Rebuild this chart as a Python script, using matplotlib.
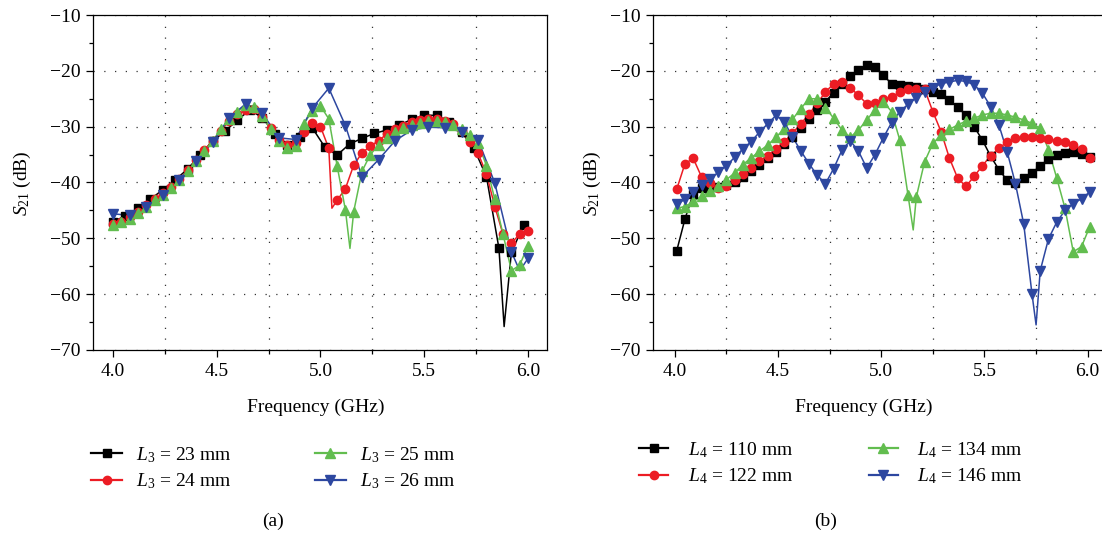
import numpy as np
import matplotlib.pyplot as plt
from matplotlib.lines import Line2D

plt.rcParams['font.family'] = ['Liberation Serif', 'DejaVu Serif']
plt.rcParams['mathtext.fontset'] = 'custom'
plt.rcParams['mathtext.rm'] = 'Liberation Serif'
plt.rcParams['mathtext.it'] = 'Liberation Serif:italic'

# ---------------- (a) L3 sweep ----------------
fa_black = np.round(np.arange(4.0, 5.99, 0.06), 2)   # 34 pts
fa_04 = np.round(np.arange(4.0, 6.001, 0.04), 2)     # 51 pts
fa_blue = np.round(np.arange(4.0, 6.001, 0.08), 2)   # 26 pts

a_l3_23 = [-47.0, -46.0, -44.6, -43.0, -41.3, -39.5, -37.6, -35.0, -32.6, -30.8,
           -28.8, -27.0, -28.4, -31.3, -33.2, -31.8, -30.2, -33.6, -35.1, -33.1,
           -32.1, -31.2, -30.6, -29.7, -28.7, -27.9, -28.0, -29.1, -31.0, -33.9,
           -39.0, -51.8, -52.5, -47.6]
a_l3_23_dip = ([5.885], [-65.8])

a_l3_24 = [-47.5, -47.0, -46.2, -45.2, -44.0, -43.0, -41.9, -40.8, -39.3, -37.8,
           -36.0, -34.2, -32.5, -30.7, -29.0, -27.8, -27.0, -26.9, -28.2, -30.3,
           -32.3, -33.3, -33.0, -31.0, -29.3, -30.0, -33.9, -43.2, -41.1, -36.9,
           -34.7, -33.5, -32.5, -31.3, -30.5, -29.8, -29.2, -28.8, -28.6, -28.6,
           -28.9, -29.6, -30.8, -32.8, -34.8, -38.5, -44.3, -49.3, -50.8, -49.3,
           -48.6]
a_l3_24_dip = ([5.055], [-44.6])

a_l3_25 = [-47.6, -47.1, -46.5, -45.5, -44.3, -43.1, -42.2, -41.0, -39.5, -38.0,
           -36.2, -34.4, -32.6, -30.5, -28.7, -27.3, -26.1, -26.4, -28.1, -30.5,
           -32.6, -33.8, -33.5, -29.5, -27.2, -26.3, -28.6, -37.0, -44.9, -45.2,
           -38.0, -35.0, -33.3, -32.0, -31.0, -30.2, -29.7, -29.3, -29.0, -29.0,
           -29.2, -29.7, -30.5, -31.5, -33.0, -37.0, -43.0, -49.3, -55.8, -54.8,
           -51.3]
a_l3_25_dip = ([5.142], [-51.8])

a_l3_26 = [-45.6, -45.9, -44.3, -42.2, -39.5, -36.2, -32.8, -28.4, -25.9, -27.6,
           -32.0, -32.3, -26.7, -23.1, -29.8, -39.0, -35.9, -32.5, -30.6, -30.1,
           -30.2, -30.9, -32.4, -40.1, -52.4, -53.6]
a_l3_26_dip = ([5.96], [-55.8])

# ---------------- (b) L4 sweep ----------------
fb = np.round(np.arange(4.01, 6.02, 0.04), 2)        # 51 pts

b_l4_110 = [-52.2, -46.5, -42.0, -41.0, -40.8, -40.8, -40.5, -39.9, -39.0, -37.9,
            -36.9, -35.7, -34.5, -33.1, -31.9, -30.2, -28.6, -27.0, -25.5, -23.9,
            -22.4, -21.0, -19.8, -19.0, -19.4, -20.8, -22.3, -22.6, -22.7, -22.9,
            -23.3, -23.8, -24.2, -25.3, -26.5, -27.9, -30.0, -32.4, -35.3, -37.7,
            -39.6, -40.1, -39.2, -38.3, -37.0, -35.8, -35.0, -34.7, -34.6, -34.9,
            -35.5]
b_l4_110_dip = ([], [])

b_l4_122 = [-41.2, -36.6, -35.7, -39.0, -40.1, -41.0, -40.7, -39.5, -38.4, -37.4,
            -36.2, -35.2, -34.0, -32.7, -31.2, -29.5, -27.8, -25.8, -23.8, -22.3,
            -22.0, -23.0, -24.4, -25.9, -25.7, -25.1, -24.7, -23.8, -23.2, -23.2,
            -23.3, -27.3, -30.9, -35.6, -39.2, -40.7, -38.9, -37.0, -35.2, -33.9,
            -32.7, -32.1, -31.8, -31.9, -32.1, -32.2, -32.5, -32.8, -33.3, -34.0,
            -35.6]
b_l4_122_dip = ([], [])

b_l4_134 = [-44.6, -44.3, -43.4, -42.5, -41.6, -40.7, -39.5, -38.3, -36.8, -35.6,
            -34.4, -33.3, -31.9, -30.4, -28.7, -26.8, -25.0, -25.0, -26.6, -28.5,
            -30.6, -31.9, -30.6, -28.8, -27.0, -25.5, -27.3, -32.4, -42.3, -42.6,
            -36.3, -33.0, -31.5, -30.5, -29.7, -29.0, -28.5, -27.9, -27.6, -27.6,
            -27.9, -28.3, -28.8, -29.4, -30.3, -34.1, -39.2, -44.6, -52.4, -51.5,
            -47.9]
b_l4_134_dip = ([5.155], [-48.5])

b_l4_146 = [-43.9, -43.0, -41.7, -40.5, -39.4, -38.2, -37.0, -35.5, -34.0, -32.7,
            -31.0, -29.5, -28.0, -29.1, -31.8, -34.3, -36.6, -38.7, -40.2, -37.5,
            -34.2, -32.5, -34.4, -37.4, -35.0, -32.0, -29.3, -27.3, -26.0, -24.8,
            -23.8, -23.0, -22.3, -22.0, -21.7, -21.9, -22.5, -24.0, -26.4, -29.7,
            -34.5, -40.2, -47.4, -59.9, -55.8, -50.1, -47.1, -45.0, -43.8, -42.9,
            -41.7]
b_l4_146_dip = ([5.75], [-65.5])

labels_a = [r'$L_3$ = 23 mm', r'$L_3$ = 24 mm', r'$L_3$ = 25 mm', r'$L_3$ = 26 mm']
labels_b = [r'$L_4$ = 110 mm', r'$L_4$ = 122 mm', r'$L_4$ = 134 mm', r'$L_4$ = 146 mm']

colors = ['#000000', '#ec1c24', '#62bd4f', '#2d47a0']
markers = ['s', 'o', '^', 'v']
msizes = [5.5, 6, 6.5, 6.5]

W, H = 1102, 537
fig = plt.figure(figsize=(W / 100, H / 100), dpi=100)


def draw(ax, f, s, dip, c, m, ms):
    f = np.asarray(f, float)
    s = np.asarray(s, float)
    fl = np.concatenate([f, np.asarray(dip[0], float)])
    sl = np.concatenate([s, np.asarray(dip[1], float)])
    o = np.argsort(fl)
    ax.plot(fl[o], sl[o], color=c, lw=1.1, zorder=2)
    ax.plot(f, s, ls='none', marker=m, ms=ms, color=c, mec=c, zorder=3)


def style(ax, xlim):
    ax.set_xlim(*xlim)
    ax.set_ylim(-70, -10)
    ax.set_xticks([4.0, 4.5, 5.0, 5.5, 6.0])
    ax.set_xticklabels(['4.0', '4.5', '5.0', '5.5', '6.0'])
    ax.set_xticks([4.25, 4.75, 5.25, 5.75], minor=True)
    ax.set_yticks(np.arange(-70, -9, 10))
    ax.set_yticks(np.arange(-65, -10, 10), minor=True)
    ax.grid(which='minor', axis='x', ls=(0, (1, 7.6)), color='#333333', lw=0.9)
    ax.grid(which='major', axis='y', ls=(0, (1, 7.6)), color='#333333', lw=0.9)
    ax.tick_params(which='both', direction='out', top=False, right=False,
                   labelsize=14, width=0.9)
    ax.tick_params(which='major', length=5, pad=4)
    ax.tick_params(which='minor', length=3)
    for sp in ax.spines.values():
        sp.set_linewidth(0.9)
    ax.set_axisbelow(True)


# left panel
axa = fig.add_axes([93 / W, 1 - 350 / H, (547 - 93) / W, 335 / H])
series_a = [(fa_black, a_l3_23, a_l3_23_dip), (fa_04, a_l3_24, a_l3_24_dip),
            (fa_04, a_l3_25, a_l3_25_dip), (fa_blue, a_l3_26, a_l3_26_dip)]
for (f, s, d), c, m, ms in zip(series_a, colors, markers, msizes):
    draw(axa, f, s, d, c, m, ms)
style(axa, (3.9036, 6.0916))

# right panel
axb = fig.add_axes([652.7 / W, 1 - 350 / H, (1104 - 652.7) / W, 335 / H])
series_b = [(fb, b_l4_110, b_l4_110_dip), (fb, b_l4_122, b_l4_122_dip),
            (fb, b_l4_134, b_l4_134_dip), (fb, b_l4_146, b_l4_146_dip)]
for (f, s, d), c, m, ms in zip(series_b, colors, markers, msizes):
    draw(axb, f, s, d, c, m, ms)
style(axb, (3.8935, 6.0789))

# axis labels
fig.text(22 / W, 1 - 183 / H, r'$S_{21}$ (dB)', rotation=90, ha='center', va='center', fontsize=14)
fig.text(592 / W, 1 - 183 / H, r'$S_{21}$ (dB)', rotation=90, ha='center', va='center', fontsize=14)
fig.text(316 / W, 1 - 407 / H, 'Frequency (GHz)', ha='center', va='center', fontsize=14)
fig.text(864 / W, 1 - 407 / H, 'Frequency (GHz)', ha='center', va='center', fontsize=14)
fig.text(273 / W, 1 - 521 / H, '(a)', ha='center', va='center', fontsize=14)
fig.text(826 / W, 1 - 521 / H, '(b)', ha='center', va='center', fontsize=14)

# legends
def handles(labels):
    return [Line2D([], [], color=c, marker=m, ms=ms, mec=c, lw=1.6, label=l)
            for c, m, ms, l in zip(colors, markers, msizes, labels)]


fig.legend(handles=handles(labels_a), ncol=2, loc='center left',
           bbox_to_anchor=(91 / W, 1 - 468 / H), frameon=False, fontsize=14,
           handlelength=1.6, handletextpad=0.7, columnspacing=4.3,
           labelspacing=0.35, borderpad=0, borderaxespad=0)
fig.legend(handles=handles(labels_b), ncol=2, loc='center left',
           bbox_to_anchor=(639 / W, 1 - 463 / H), frameon=False, fontsize=14,
           handlelength=1.5, handletextpad=1.0, columnspacing=3.9,
           labelspacing=0.35, borderpad=0, borderaxespad=0)

fig.savefig('out.png', dpi=100)
